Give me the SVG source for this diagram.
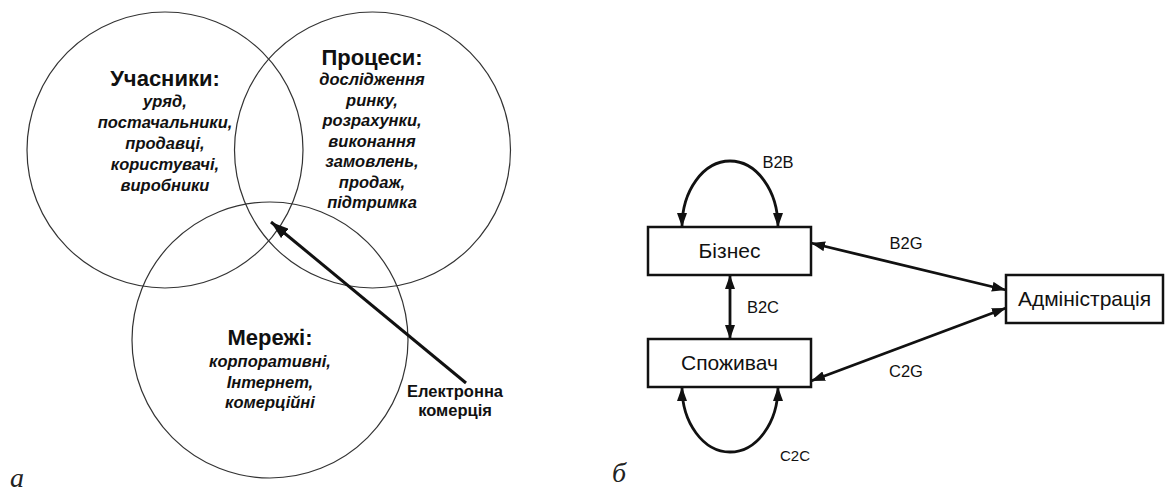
<svg xmlns="http://www.w3.org/2000/svg" width="1167" height="491" viewBox="0 0 1167 491">
<defs>
<style>
.circ{fill:none;stroke:#333;stroke-width:1.2}
.t{font-family:"Liberation Sans",Arial,sans-serif;font-weight:bold;font-size:22px;fill:#111;text-anchor:middle}
.i{font-family:"Liberation Sans",Arial,sans-serif;font-weight:bold;font-style:italic;font-size:16.5px;fill:#111;text-anchor:middle}
.lb{font-family:"Liberation Sans",Arial,sans-serif;font-weight:bold;font-size:16.5px;fill:#111;text-anchor:middle}
.box{fill:#fff;stroke:#111;stroke-width:2.5}
.bt{font-family:"Liberation Sans",Arial,sans-serif;font-size:21px;fill:#111;text-anchor:middle}
.cl{font-family:"Liberation Sans",Arial,sans-serif;font-size:16.5px;fill:#111;text-anchor:middle}
.con{fill:none;stroke:#111;stroke-width:2.8}
.sf{font-family:"Liberation Serif","Times New Roman",serif;font-style:italic;font-size:28px;fill:#222}
</style>
<marker id="ah" viewBox="0 0 14 10" refX="14" refY="5" markerWidth="14" markerHeight="10" markerUnits="userSpaceOnUse" orient="auto-start-reverse">
<path d="M0,0 L14,5 L0,10 z" fill="#111"/>
</marker>
<marker id="ahv" viewBox="0 0 18 12" refX="18" refY="6" markerWidth="18" markerHeight="12" markerUnits="userSpaceOnUse" orient="auto">
<path d="M0,0 L18,6 L0,12 z" fill="#111"/>
</marker>
</defs>

<g id="venn">
<g id="participants">
<circle class="circ" cx="165" cy="150" r="138"/>
<text class="t" x="165" y="86">Учасники:</text>
<text class="i" x="165" y="107">уряд,</text>
<text class="i" x="165" y="128">постачальники,</text>
<text class="i" x="165" y="149">продавці,</text>
<text class="i" x="165" y="170">користувачі,</text>
<text class="i" x="165" y="191">виробники</text>
</g>
<g id="processes">
<circle class="circ" cx="372.5" cy="150" r="138"/>
<text class="t" x="372" y="65">Процеси:</text>
<text class="i" x="372" y="85">дослідження</text>
<text class="i" x="372" y="105.5">ринку,</text>
<text class="i" x="372" y="126">розрахунки,</text>
<text class="i" x="372" y="146.5">виконання</text>
<text class="i" x="372" y="167">замовлень,</text>
<text class="i" x="372" y="187.5">продаж,</text>
<text class="i" x="372" y="208">підтримка</text>
</g>
<g id="networks">
<circle class="circ" cx="270" cy="340" r="138"/>
<text class="t" x="270" y="345">Мережі:</text>
<text class="i" x="270" y="367">корпоративні,</text>
<text class="i" x="270" y="388">Інтернет,</text>
<text class="i" x="270" y="408">комерційні</text>
</g>
<g id="ecommerce">
<line x1="466" y1="383" x2="271" y2="222" stroke="#111" stroke-width="3" marker-end="url(#ahv)"/>
<text class="lb" x="455" y="397">Електронна</text>
<text class="lb" x="455" y="416">комерція</text>
</g>
<text class="sf" x="10" y="487">a</text>
</g>

<g id="connectors">
<path class="con" d="M682,227 A48,66 0 0 1 778,227" marker-start="url(#ah)" marker-end="url(#ah)"/>
<path class="con" d="M682,387 A48,65 0 0 0 778,387" marker-start="url(#ah)" marker-end="url(#ah)"/>
<line class="con" x1="730" y1="275" x2="730" y2="339" marker-start="url(#ah)" marker-end="url(#ah)"/>
<line class="con" x1="811" y1="243" x2="1006" y2="290" marker-start="url(#ah)" marker-end="url(#ah)"/>
<line class="con" x1="811" y1="381" x2="1006" y2="308" marker-start="url(#ah)" marker-end="url(#ah)"/>
<text class="cl" x="778" y="168">B2B</text>
<text class="cl" x="763" y="313">B2C</text>
<text class="cl" x="906" y="249">B2G</text>
<text class="cl" x="906" y="377">C2G</text>
<text class="cl" x="795" y="461" style="font-size:15px">C2C</text>
</g>

<g id="business">
<rect class="box" x="648" y="227" width="163" height="48"/>
<text class="bt" x="729.5" y="258">Бізнес</text>
</g>
<g id="consumer">
<rect class="box" x="648" y="339" width="163" height="48"/>
<text class="bt" x="729.5" y="370">Споживач</text>
</g>
<g id="administration">
<rect class="box" x="1006" y="275" width="157" height="48"/>
<text class="bt" x="1084.5" y="306">Адміністрація</text>
</g>
<text class="sf" x="612" y="482">б</text>
</svg>
